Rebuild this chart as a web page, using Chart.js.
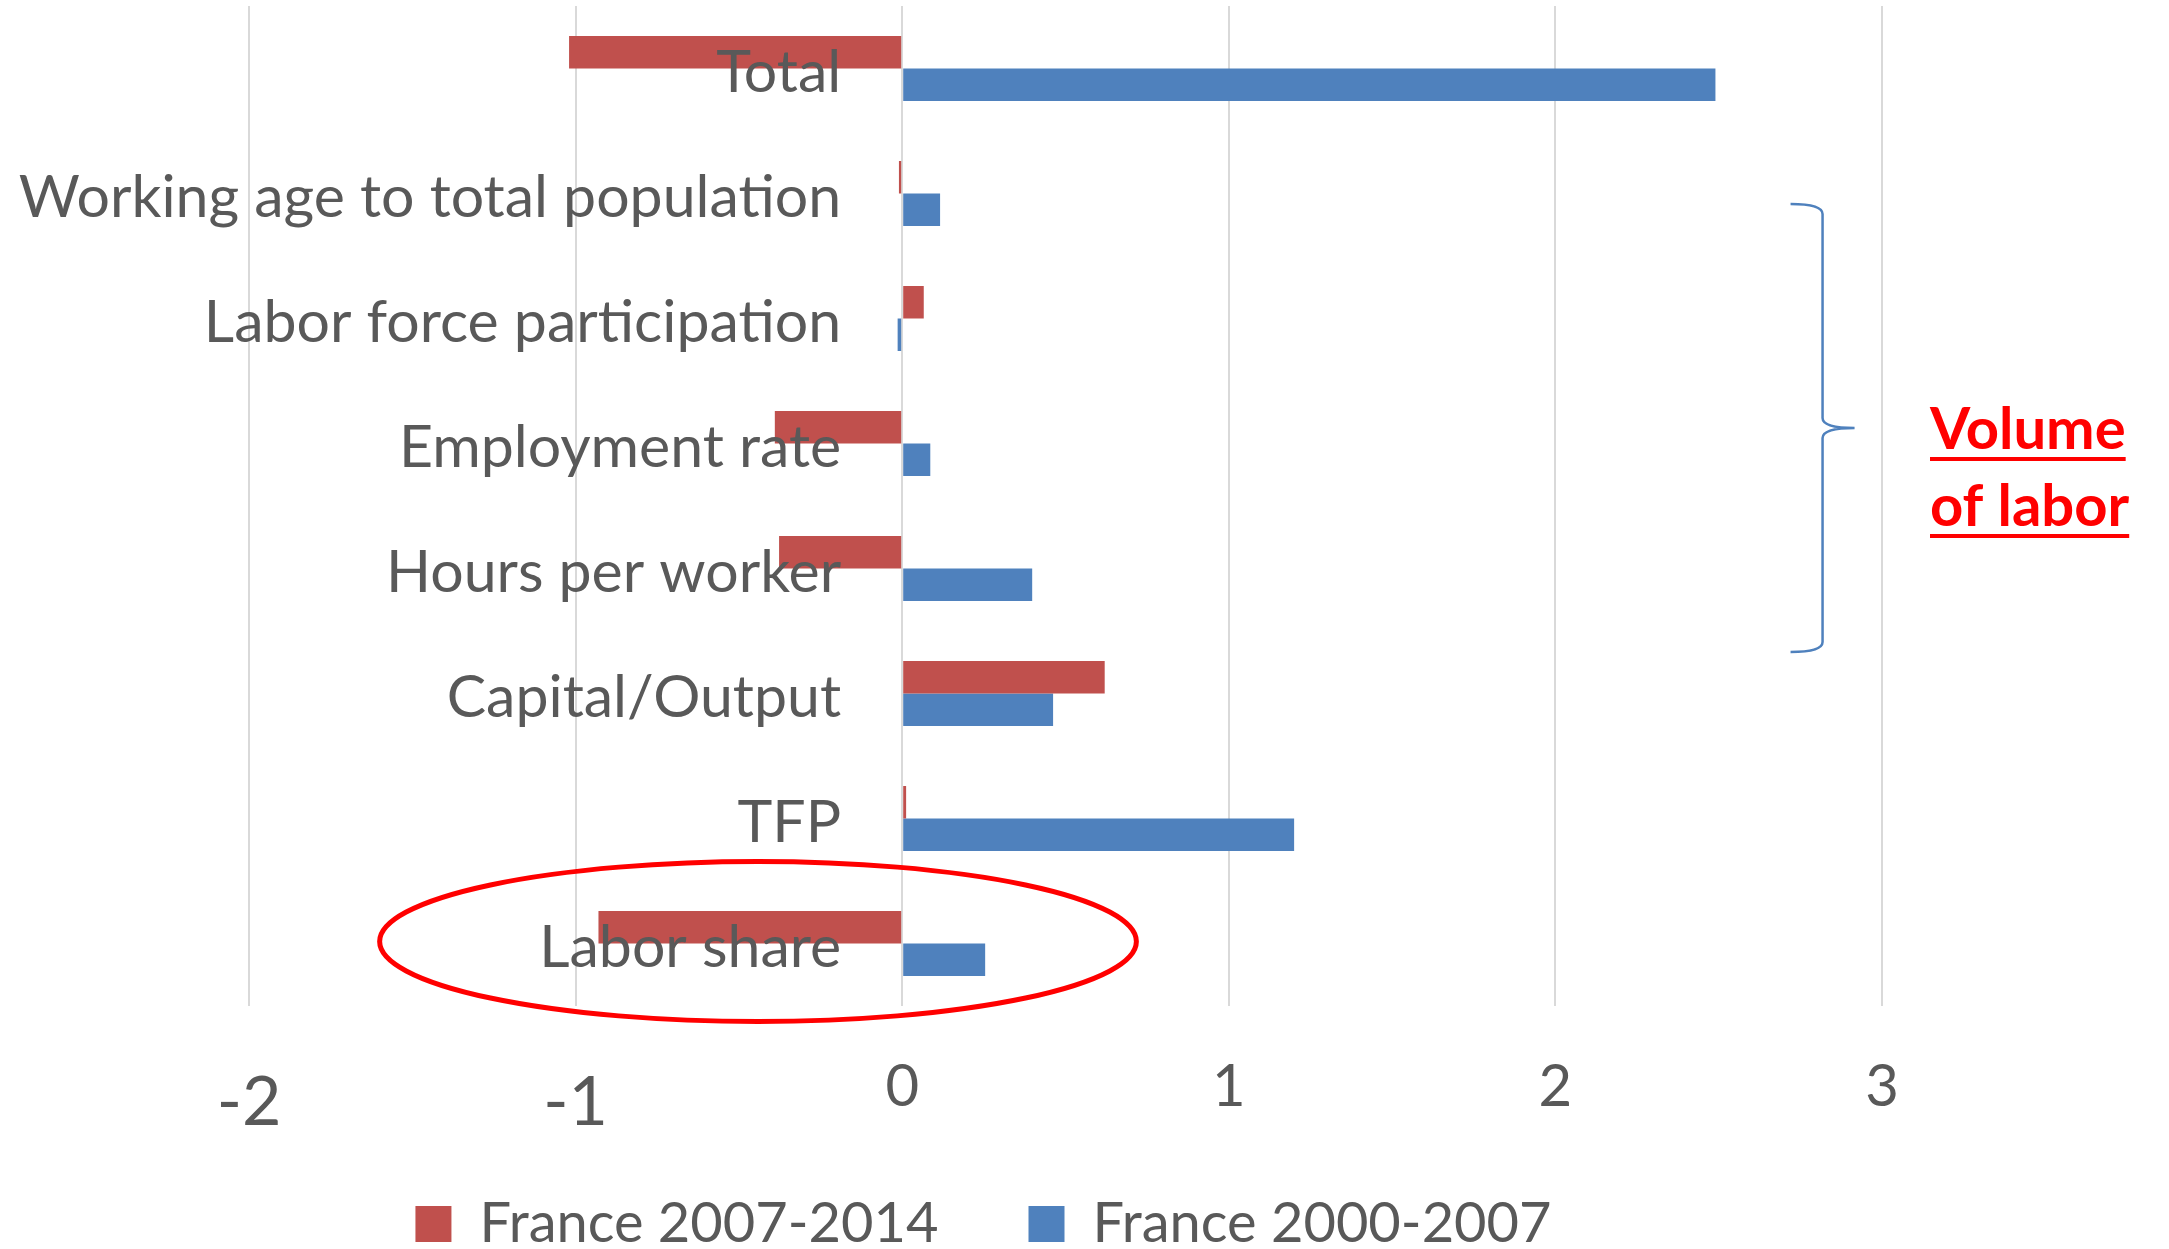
<!DOCTYPE html>
<html lang="en">
<head>
<meta charset="UTF-8">
<title>France growth decomposition</title>
<script src="https://cdn.jsdelivr.net/npm/chart.js"></script>
<style>
  html, body { margin: 0; padding: 0; background: #fff; }
  #wrap { position: relative; width: 2169px; height: 1249px; }
</style>
</head>
<body>
<div id="wrap"><canvas id="growthChart"></canvas></div>
<script>
// data
const categories = [
  'Total',
  'Working age to total population',
  'Labor force participation',
  'Employment rate',
  'Hours per worker',
  'Capital/Output',
  'TFP',
  'Labor share'
];
const france2007_2014 = [-1.02, -0.01, 0.066, -0.39, -0.377, 0.62, 0.012, -0.93];
const france2000_2007 = [2.49, 0.116, -0.014, 0.086, 0.398, 0.462, 1.2, 0.254];
const seriesNames = ['France 2007-2014', 'France 2000-2007'];
const xMin = -2;
const xMax = 3;
const noteLines = ['Volume', 'of labor'];

const RED = '#C0504D';
const BLUE = '#4F81BD';
const TEXT = '#595959';
const GRID = '#D9D9D9';
const FONT = 'Lato';

Chart.defaults.font.family = FONT;
Chart.defaults.color = TEXT;

// ellipse, brace and the "Volume of labor" note
const annotations = {
  id: 'annotations',
  afterLayout(chart) {
    // put the legend row where the original has it
    const lg = chart.legend;
    lg.left -= 82; lg.right -= 82;
    lg.top = 1224 - 90 - 28;
    lg.bottom = lg.top + 300;
  },
  afterDraw(chart) {
    const { ctx, chartArea } = chart;
    const x = chart.scales.x, y = chart.scales.y;
    ctx.save();

    // red ellipse round "Labor share"
    const ex0 = x.getPixelForValue(-1.6), ex1 = x.getPixelForValue(0.717);
    const ey = y.getPixelForValue(7) - 2;
    ctx.beginPath();
    ctx.ellipse((ex0 + ex1) / 2, ey, (ex1 - ex0) / 2, 80, 0, 0, Math.PI * 2);
    ctx.strokeStyle = '#FF0000';
    ctx.lineWidth = 5;
    ctx.stroke();

    // curly brace
    const tip = x.getPixelForValue(2.72), spine = x.getPixelForValue(2.818), point = x.getPixelForValue(2.916);
    const top = y.getPixelForValue(1.084), mid = y.getPixelForValue(2.876), bot = y.getPixelForValue(4.668);
    ctx.beginPath();
    ctx.moveTo(tip, top);
    ctx.quadraticCurveTo(spine, top, spine, top + 10);
    ctx.lineTo(spine, mid - 10);
    ctx.quadraticCurveTo(spine, mid, point, mid);
    ctx.quadraticCurveTo(spine, mid, spine, mid + 10);
    ctx.lineTo(spine, bot - 10);
    ctx.quadraticCurveTo(spine, bot, tip, bot);
    ctx.strokeStyle = BLUE;
    ctx.lineWidth = 2.5;
    ctx.stroke();

    // note text, bold red underlined
    ctx.font = 'bold 58px ' + FONT;
    ctx.fillStyle = '#FF0000';
    ctx.textAlign = 'left';
    ctx.textBaseline = 'alphabetic';
    const tx = chartArea.right + 48;
    const baselines = [449, 526];
    noteLines.forEach((line, i) => {
      ctx.fillText(line, tx, baselines[i]);
      const w = ctx.measureText(line).width;
      ctx.fillRect(tx, baselines[i] + 8, w, 4);
    });
    ctx.restore();
  }
};

const ctx = document.getElementById('growthChart').getContext('2d');
new Chart(ctx, {
  type: 'bar',
  data: {
    labels: categories,
    datasets: [
      { label: seriesNames[0], data: france2007_2014, backgroundColor: RED },
      { label: seriesNames[1], data: france2000_2007, backgroundColor: BLUE }
    ]
  },
  options: {
    indexAxis: 'y',
    responsive: true,
    maintainAspectRatio: false,
    animation: false,
    datasets: { bar: { categoryPercentage: 0.52, barPercentage: 1.0 } },
    layout: { padding: { left: 249, right: 287, top: 6, bottom: 0 } },
    scales: {
      x: {
        type: 'linear',
        min: xMin,
        max: xMax,
        grid: { color: GRID, lineWidth: 2, drawTicks: false },
        border: { display: false },
        ticks: {
          stepSize: 1,
          color: TEXT,
          padding: 46,
          font: (c) => (c.tick && c.tick.value < 0)
            ? { size: 68, lineHeight: 1.5 }
            : { size: 58, lineHeight: 1.2 }
        },
        afterFit: (scale) => { scale.height = 183; }
      },
      y: {
        type: 'category',
        position: { x: -0.187 },
        grid: { display: false },
        border: { display: false },
        ticks: { color: TEXT, z: 1, labelOffset: 4, font: { size: 59 } },
        afterFit: (scale) => { scale.paddingTop = 0; scale.paddingBottom = 0; }
      }
    },
    plugins: {
      legend: {
        position: 'bottom',
        maxHeight: 60,
        labels: {
          boxWidth: 36,
          boxHeight: 36,
          padding: 90,
          color: TEXT,
          font: { size: 56 }
        }
      },
      tooltip: { enabled: false }
    }
  },
  plugins: [annotations]
});
</script>
</body>
</html>
